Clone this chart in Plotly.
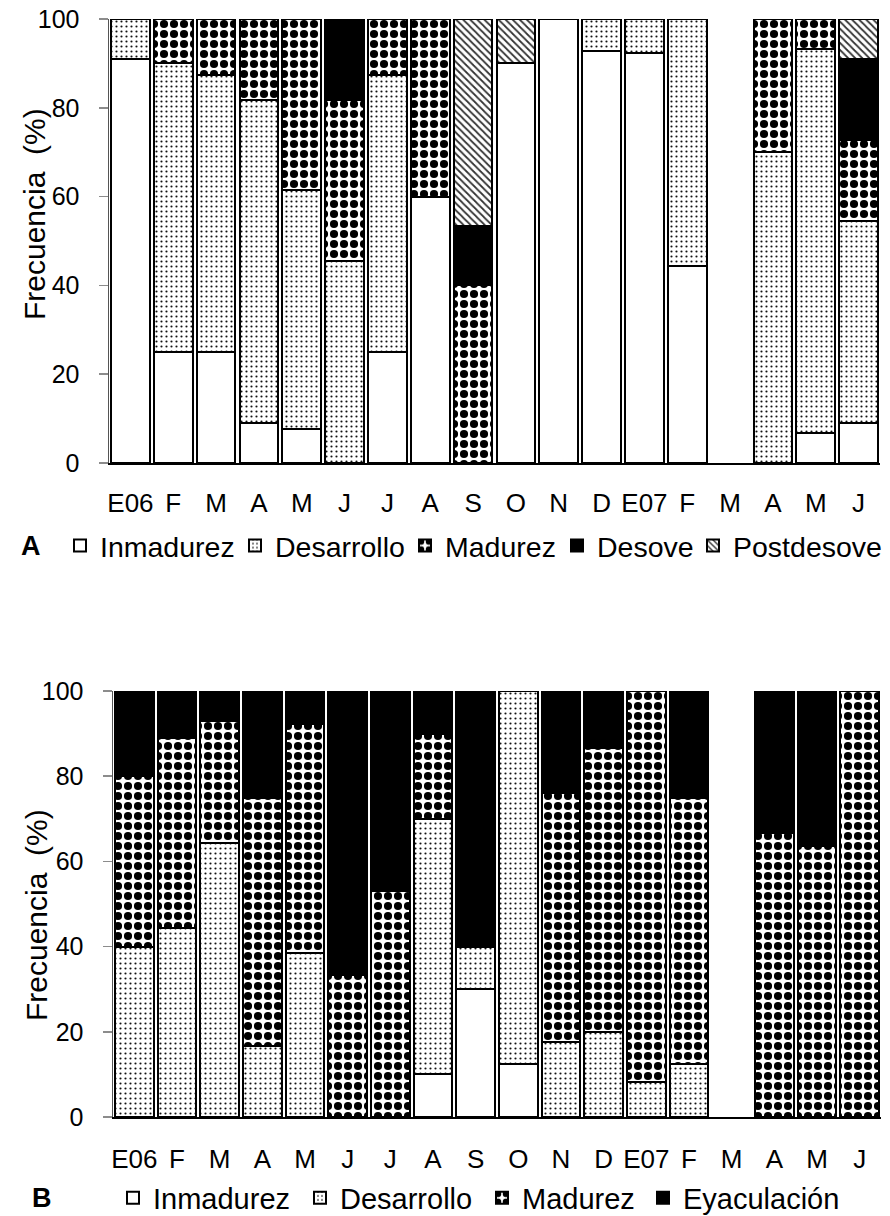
import plotly.graph_objects as go

# Month labels shared by both panels (Jan 2006 - Jun 2007)
months = ["E06", "F", "M", "A", "M", "J", "J", "A", "S", "O", "N", "D",
          "E07", "F", "M", "A", "M", "J"]

# Panel A - gonadal stages (%)
a_inmadurez = [91, 25, 25, 9.1, 7.7, 0, 25, 60, 0, 90, 100, 92.9, 92.3, 44.4, 0, 0, 6.7, 9.1]
a_desarrollo = [9, 65, 62.5, 72.7, 53.8, 45.5, 62.5, 0, 0, 0, 0, 7.1, 7.7, 55.6, 0, 70, 86.6, 45.4]
a_madurez = [0, 10, 12.5, 18.2, 38.5, 36.3, 12.5, 40, 40, 0, 0, 0, 0, 0, 0, 30, 6.7, 18.2]
a_desove = [0, 0, 0, 0, 0, 18.2, 0, 0, 13.3, 0, 0, 0, 0, 0, 0, 0, 0, 18.2]
a_postdesove = [0, 0, 0, 0, 0, 0, 0, 0, 46.7, 10, 0, 0, 0, 0, 0, 0, 0, 9.1]

# Panel B - gonadal stages (%)
b_inmadurez = [0, 0, 0, 0, 0, 0, 0, 10, 30, 12.5, 0, 0, 0, 0, 0, 0, 0, 0]
b_desarrollo = [40, 44.4, 64.3, 16.7, 38.5, 0, 0, 60, 10, 87.5, 17.6, 20, 8.3, 12.5, 0, 0, 0, 0]
b_madurez = [40, 44.5, 28.6, 58.3, 53.8, 33.3, 53, 20, 0, 0, 58.5, 66.7, 91.7, 62.5, 0, 66.7, 63.6, 100]
b_eyaculacion = [20, 11.1, 7.1, 25, 7.7, 66.7, 47, 10, 60, 0, 23.9, 13.3, 0, 25, 0, 33.3, 36.4, 0]

FONT = "Liberation Sans"
W, H = 890, 1216

fills = {
    "white": dict(color="white"),
    "dots": dict(color="white", pattern=dict(shape=".", fgcolor="#111111", bgcolor="white",
                                             size=5, solidity=0.15, fgopacity=1)),
    "check": dict(color="white", pattern=dict(shape=".", fgcolor="black", bgcolor="white",
                                              size=10, solidity=0.52, fgopacity=1)),
    "black": dict(color="black"),
    "hatch": dict(color="white", pattern=dict(shape="\\", fgcolor="#333333", bgcolor="white",
                                              size=5, solidity=0.35, fgopacity=1)),
}

# (name, values, fill, legend entry width in px)
panel_a = [("Inmadurez", a_inmadurez, "white", 130), ("Desarrollo", a_desarrollo, "dots", 125),
           ("Madurez", a_madurez, "check", 107), ("Desove", a_desove, "black", 91),
           ("Postdesove", a_postdesove, "hatch", 150)]
panel_b = [("Inmadurez", b_inmadurez, "white", 142), ("Desarrollo", b_desarrollo, "dots", 137),
           ("Madurez", b_madurez, "check", 116), ("Eyaculación", b_eyaculacion, "black", 160)]

xs = list(range(len(months)))
fig = go.Figure()


def add_panel(series, xa, ya, legend):
    for name, vals, fill, lw in series:
        marker = dict(fills[fill])
        marker["line"] = dict(color="black", width=2)
        fig.add_trace(go.Bar(
            x=xs, y=[v if v else None for v in vals], name=name,
            marker=marker, xaxis=xa, yaxis=ya, legend=legend, legendwidth=lw,
            cliponaxis=False, hoverinfo="skip"))


add_panel(panel_a, "x", "y", "legend")
add_panel(panel_b, "x2", "y2", "legend2")


def px_x(p):
    return p / W


def px_y(p):
    return 1 - p / H


xr = [-0.5, len(months) - 0.5]
bounds = [i - 0.5 for i in range(len(months) + 1)]

common_x = dict(range=xr, tickmode="array", tickvals=xs, ticktext=months, ticks="",
                showline=True, linecolor="black", linewidth=2, showgrid=False,
                zeroline=False, tickfont=dict(family=FONT, size=26, color="black"),
                fixedrange=True, automargin=False)
tick_x = dict(range=xr, tickmode="array", tickvals=bounds, ticks="outside", ticklen=8,
              tickwidth=1.5, tickcolor="#8c8c8c", showticklabels=False, showline=False,
              showgrid=False, zeroline=False, fixedrange=True, automargin=False)
common_y = dict(range=[0, 100], tickmode="array", tickvals=[0, 20, 40, 60, 80, 100],
                ticks="outside", ticklen=9, tickwidth=1.5, tickcolor="#8c8c8c",
                showline=True, linecolor="#555555", linewidth=1.5, showgrid=False,
                zeroline=False, tickfont=dict(family=FONT, size=25, color="black"),
                ticklabelstandoff=14, fixedrange=True, automargin=False)

legend_common = dict(orientation="h", xanchor="left", yanchor="middle",
                     bgcolor="rgba(0,0,0,0)", traceorder="normal", itemclick=False)

fig.update_layout(
    width=W, height=H, margin=dict(l=0, r=0, t=0, b=0, autoexpand=False),
    paper_bgcolor="white", plot_bgcolor="white",
    barmode="stack", bargap=0.1,
    font=dict(family=FONT, color="black"),
    xaxis=dict(common_x, domain=[px_x(109), px_x(880)], anchor="y", ticklabelstandoff=16),
    yaxis=dict(common_y, domain=[px_y(463), px_y(19)], anchor="x"),
    xaxis2=dict(common_x, domain=[px_x(113), px_x(881)], anchor="y2", ticklabelstandoff=18),
    yaxis2=dict(common_y, domain=[px_y(1117), px_y(691)], anchor="x2"),
    xaxis3=dict(tick_x, overlaying="x", anchor="y", matches="x"),
    xaxis4=dict(tick_x, overlaying="x2", anchor="y2", matches="x2"),
    legend=dict(legend_common, x=px_x(60), y=px_y(546),
                font=dict(family=FONT, size=28.5, color="black")),
    legend2=dict(legend_common, x=px_x(113), y=px_y(1198),
                 font=dict(family=FONT, size=29, color="black")),
    showlegend=True,
)

title_font = dict(family=FONT, size=30, color="black")
fig.add_annotation(text="Frecuencia  (%)", textangle=-90, xref="paper", yref="paper",
                   x=px_x(34), y=px_y(214), showarrow=False, font=title_font,
                   xanchor="center", yanchor="middle")
fig.add_annotation(text="Frecuencia  (%)", textangle=-90, xref="paper", yref="paper",
                   x=px_x(36), y=px_y(915), showarrow=False, font=title_font,
                   xanchor="center", yanchor="middle")
fig.add_annotation(text="<b>A</b>", xref="paper", yref="paper", x=px_x(31), y=px_y(546),
                   showarrow=False, font=dict(family=FONT, size=27, color="black"),
                   xanchor="center", yanchor="middle")
fig.add_annotation(text="<b>B</b>", xref="paper", yref="paper", x=px_x(42), y=px_y(1198),
                   showarrow=False, font=dict(family=FONT, size=27, color="black"),
                   xanchor="center", yanchor="middle")

fig.write_html("out.html", config={"displayModeBar": False, "staticPlot": True})
